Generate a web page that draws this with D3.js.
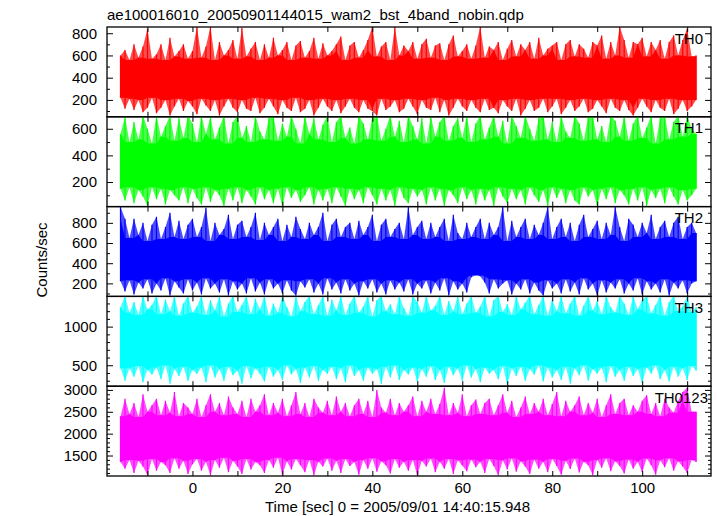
<!DOCTYPE html>
<html>
<head>
<meta charset="utf-8">
<script src="https://cdn.jsdelivr.net/npm/d3@7"></script>
<style>
  html, body { margin: 0; padding: 0; background: #fff; }
  svg { display: block; }
  text { font-family: "Liberation Sans", Arial, Helvetica, sans-serif; fill: #000; }
</style>
</head>
<body>
<svg id="chart" width="717" height="516"></svg>
<script>
// ---------------- data (1-s bins from t = -16 to 112) ----------------
const title = "ae100016010_20050901144015_wam2_bst_4band_nobin.qdp";
const xLabel = "Time [sec] 0 = 2005/09/01 14:40:15.948";
const yLabel = "Counts/sec";
const panelNames = ["TH0", "TH1", "TH2", "TH3", "TH0123"];
const panelColors = ["#ff0000", "#00ff00", "#0000ff", "#00ffff", "#ff00ff"];
const tStart = -16;
const tStep = 1;
const xTickValues = [-10, 0, 10, 20, 30, 40, 50, 60, 70, 80, 90, 100, 110];
const xLabelValues = [0, 20, 40, 60, 80, 100];

const th0Hi = [600,650,560,700,580,680,840,570,610,700,560,760,590,640,700,570,
  640,860,580,680,860,560,720,600,650,740,570,850,590,660,720,560,
  700,580,760,600,650,720,560,690,730,580,640,760,570,710,600,640,
  700,770,560,690,720,580,650,740,860,590,680,720,560,860,600,690,
  640,720,570,700,750,580,690,710,560,700,780,590,640,700,570,690,
  860,580,680,650,720,560,660,740,590,700,650,720,570,760,600,660,
  690,720,560,700,740,590,700,660,580,720,690,780,570,720,600,860,
  740,580,720,700,760,590,720,650,740,570,720,780,600,740,840,590,600];
const th0Lo = [220,120,210,110,200,90,130,220,80,130,200,60,140,210,100,190,
  140,70,210,150,100,200,60,140,210,130,90,200,120,100,220,80,
  130,210,140,70,200,130,100,220,90,120,200,60,130,210,140,100,
  200,80,140,210,130,90,200,120,100,60,210,110,140,200,90,120,
  210,140,70,200,130,110,220,90,200,60,130,210,140,100,200,130,
  90,210,110,130,80,200,140,100,210,60,120,200,100,130,210,90,
  140,210,70,130,200,100,140,210,90,120,200,140,80,210,130,100,
  200,110,60,130,210,140,90,200,130,100,210,70,120,200,100,140,200];

const th1Hi = [560,690,500,650,520,700,600,490,700,540,620,700,510,680,530,700,
  640,500,700,560,690,520,610,700,490,650,700,530,620,500,700,580,
  520,680,700,510,640,540,700,600,490,700,560,680,520,630,700,500,
  650,700,530,610,490,700,640,520,680,700,510,600,700,540,660,500,
  700,620,520,680,490,700,540,650,700,510,620,680,530,700,500,640,
  700,520,610,700,540,660,490,700,620,530,700,600,510,680,700,520,
  650,500,700,580,530,700,640,510,690,700,520,620,500,700,660,540,
  700,510,640,700,530,610,700,490,680,700,520,650,700,540,700,600,560];
const th1Lo = [150,60,160,40,140,90,20,160,70,150,30,140,100,60,160,40,
  150,80,30,160,50,140,100,20,150,60,160,40,140,90,30,160,
  70,140,40,150,20,160,80,140,50,100,160,30,140,60,150,40,
  160,90,20,150,70,140,40,160,100,30,150,60,140,20,160,80,
  40,150,90,140,30,160,60,150,20,140,100,40,160,70,140,30,
  150,60,140,20,160,90,40,150,70,140,30,160,100,50,140,20,
  160,80,150,40,140,60,30,160,90,140,20,150,70,160,40,140,
  100,30,150,60,160,20,140,80,150,40,160,90,30,140,60,100,150];

const th2Hi = [960,840,650,840,680,800,620,780,860,640,760,900,660,820,640,780,
  840,660,760,950,620,800,680,740,880,640,780,820,660,760,900,630,
  800,680,760,840,620,780,660,860,740,640,800,680,760,900,620,780,
  840,660,760,800,640,820,680,760,880,620,780,840,660,740,800,640,
  960,680,760,820,640,800,660,760,840,620,880,700,640,800,660,760,
  840,640,800,680,760,960,620,820,660,760,840,640,780,680,800,960,
  640,760,840,660,800,620,780,880,660,740,820,640,800,680,960,760,
  620,840,780,660,800,700,880,640,760,820,660,800,860,640,760,800,700];
const th2Lo = [220,120,230,90,210,150,240,100,200,130,250,80,220,160,100,240,
  130,210,90,250,150,200,110,240,80,220,140,200,100,250,120,210,
  90,240,150,200,100,230,130,80,220,160,240,110,200,90,250,140,
  210,100,240,130,200,80,220,150,240,110,200,90,230,140,210,120,
  240,90,200,150,230,100,210,130,250,80,220,140,200,110,260,280,
  270,210,100,240,150,200,230,90,200,140,240,100,210,130,80,230,
  150,200,100,240,120,210,90,250,140,200,80,230,110,210,150,240,
  100,200,130,250,90,220,140,200,110,240,80,210,150,230,100,200,220];

const th3Hi = [1250,1400,1180,1320,1150,1400,1220,1280,1400,1160,1350,1200,1400,1140,1300,1400,
  1180,1260,1400,1150,1340,1210,1400,1130,1300,1400,1190,1280,1400,1160,1360,1220,
  1400,1140,1300,1180,1400,1250,1130,1400,1200,1320,1400,1160,1280,1400,1140,1350,
  1210,1400,1150,1300,1400,1180,1260,1400,1130,1340,1400,1200,1290,1160,1400,1240,
  1140,1400,1320,1180,1400,1210,1270,1400,1150,1330,1200,1400,1160,1300,1400,1180,
  1260,1400,1130,1340,1400,1190,1290,1150,1400,1220,1310,1400,1160,1280,1400,1140,
  1350,1200,1400,1170,1300,1400,1140,1270,1400,1210,1330,1160,1400,1250,1180,1400,
  1300,1150,1400,1220,1340,1400,1170,1280,1400,1140,1320,1400,1200,1260,1400,1190,1250];
const th3Lo = [460,300,460,350,490,280,440,380,470,320,500,260,450,360,480,300,
  440,390,470,280,500,340,450,300,480,370,430,260,490,330,460,390,
  290,480,350,440,310,500,380,450,270,470,340,490,300,440,390,480,
  320,460,280,500,360,440,300,470,390,450,260,480,340,500,310,440,
  380,470,290,450,350,490,310,440,270,480,370,460,300,500,340,450,
  280,470,390,440,320,490,250,460,360,480,300,450,380,500,290,470,
  340,440,310,480,260,460,370,500,300,450,390,470,280,490,350,440,
  300,480,360,450,270,470,390,500,320,440,290,480,350,460,310,490,430];

const th0123Hi = [2400,2800,2450,2700,2380,2900,2500,2650,2800,2420,2750,2480,2950,2400,2700,2600,
  2450,2800,2380,2650,2900,2500,2700,2420,2850,2600,2450,2750,2380,2800,2500,2650,
  2900,2420,2700,2480,2800,2400,2650,2950,2450,2700,2380,2800,2600,2480,2750,2420,
  2850,2500,2700,2400,2650,2800,2450,2750,2380,3000,2600,2480,2800,2420,2700,2500,
  2650,2850,2400,2750,2500,2800,2450,2680,3050,2420,2700,2480,2900,2400,2650,2780,
  2450,2700,2800,2420,2650,2900,2480,2750,2380,2600,2850,2450,2700,2500,2800,2420,
  2680,2950,2400,2750,2500,2650,2850,2420,2700,2480,2800,2380,2650,2900,2450,2700,
  2800,2420,2650,2500,2750,2880,2450,2700,2400,2800,2600,2480,2750,2950,3050,2500,2500];
const th0123Lo = [1350,1200,1400,1100,1380,1250,1050,1420,1150,1350,1280,1100,1440,1200,1380,1080,
  1300,1420,1150,1360,1050,1400,1220,1450,1120,1380,1250,1080,1420,1180,1350,1280,
  1100,1400,1220,1450,1060,1370,1180,1420,1280,1120,1400,1050,1360,1250,1430,1150,
  1380,1100,1420,1260,1350,1060,1400,1200,1440,1130,1370,1280,1090,1420,1220,1360,
  1150,1400,1050,1380,1250,1430,1120,1360,1200,1420,1080,1390,1270,1140,1410,1230,
  1360,1100,1420,1260,1050,1390,1180,1440,1130,1370,1250,1080,1410,1200,1360,1120,
  1420,1260,1060,1380,1190,1430,1110,1360,1280,1050,1400,1220,1440,1140,1370,1260,
  1090,1410,1200,1360,1120,1430,1280,1060,1390,1230,1440,1150,1370,1250,1100,1400,1350];

const panelHi = [th0Hi, th1Hi, th2Hi, th3Hi, th0123Hi];
const panelLo = [th0Lo, th1Lo, th2Lo, th3Lo, th0123Lo];
const yDomains = [[48, 856], [15, 690], [71, 961], [229, 1391], [1032, 3085]];
const yMajor = [[200, 400, 600, 800], [200, 400, 600], [200, 400, 600, 800], [500, 1000], [1500, 2000, 2500, 3000]];
const yMinorStep = [100, 100, 100, 100, 100];

// ---------------- layout ----------------
const svg = d3.select("#chart");
const left = 107, right = 711, top0 = 27, panelH = 89.8;
const fontSize = 15;

const x = d3.scaleLinear().domain([-19.0, 115.3]).range([left, right]);

svg.append("text")
  .attr("x", left).attr("y", 19.5)
  .attr("font-size", fontSize)
  .text(title);

panelNames.forEach((name, i) => {
  const pTop = top0 + i * panelH;
  const pBot = pTop + panelH;
  const y = d3.scaleLinear().domain(yDomains[i]).range([pBot, pTop]);
  const g = svg.append("g");
  const color = panelColors[i];

  const clipId = "clip" + i;
  svg.append("clipPath").attr("id", clipId)
    .append("rect").attr("x", left).attr("y", pTop).attr("width", right - left).attr("height", panelH);

  const hi = panelHi[i], lo = panelLo[i];
  const n = hi.length;
  const pts = hi.map((h, k) => {
    const a = Math.max(0, k - 1), b = Math.min(n - 1, k + 1);
    return {
      t: tStart + k * tStep, hi: h, lo: lo[k],
      coreHi: Math.min(hi[a], h, hi[b]),
      coreLo: Math.max(lo[a], lo[k], lo[b])
    };
  });
  const dataG = g.append("g").attr("clip-path", `url(#${clipId})`);
  // fringe
  dataG.append("path")
    .attr("d", d3.area().x(d => x(d.t)).y0(d => y(d.lo)).y1(d => y(d.hi))(pts))
    .attr("fill", color).attr("fill-opacity", 0.7);
  // dense core
  dataG.append("path")
    .attr("d", d3.area().x(d => x(d.t)).y0(d => y(d.coreLo)).y1(d => y(d.coreHi))(pts))
    .attr("fill", color);
  // needles
  dataG.selectAll("line.needle").data(pts).join("line")
    .attr("class", "needle")
    .attr("x1", d => x(d.t)).attr("x2", d => x(d.t))
    .attr("y1", d => y(d.lo)).attr("y2", d => y(d.hi))
    .attr("stroke", color).attr("stroke-width", 1.2);

  // ticks
  const [d0, d1] = yDomains[i];
  const minor = d3.range(Math.ceil(d0 / yMinorStep[i]) * yMinorStep[i], d1, yMinorStep[i])
    .filter(v => !yMajor[i].includes(v));
  const axisStyle = sel => {
    sel.select(".domain").remove();
    sel.selectAll("line").attr("stroke", "#000").attr("stroke-width", 1);
    sel.selectAll("text").attr("font-size", fontSize).attr("font-family", "Liberation Sans, Arial, sans-serif");
  };
  g.append("g").attr("transform", `translate(${left},0)`)
    .call(d3.axisLeft(y).tickValues(minor).tickSize(-3).tickFormat("")).call(axisStyle);
  g.append("g").attr("transform", `translate(${right},0)`)
    .call(d3.axisRight(y).tickValues(minor).tickSize(-3).tickFormat("")).call(axisStyle);
  g.append("g").attr("transform", `translate(${left},0)`)
    .call(d3.axisLeft(y).tickValues(yMajor[i]).tickSize(-6).tickPadding(10).tickFormat(d3.format("d"))).call(axisStyle);
  g.append("g").attr("transform", `translate(${right},0)`)
    .call(d3.axisRight(y).tickValues(yMajor[i]).tickSize(-6).tickFormat("")).call(axisStyle);

  g.append("g").attr("transform", `translate(0,${pTop})`)
    .call(d3.axisTop(x).tickValues(xTickValues).tickSize(-5).tickFormat("")).call(axisStyle);
  const bottomAxis = d3.axisBottom(x).tickValues(xTickValues).tickSize(-5).tickPadding(6)
    .tickFormat(d => (i === panelNames.length - 1 && xLabelValues.includes(d)) ? d : "");
  g.append("g").attr("transform", `translate(0,${pBot})`)
    .call(bottomAxis).call(axisStyle);

  // frame
  g.append("rect").attr("x", left).attr("y", pTop).attr("width", right - left).attr("height", panelH)
    .attr("fill", "none").attr("stroke", "#000").attr("stroke-width", 1.3);

  // panel label
  g.append("text")
    .attr("x", i === panelNames.length - 1 ? 708 : 703)
    .attr("y", pTop + 16.5)
    .attr("text-anchor", "end")
    .attr("font-size", fontSize)
    .text(name);
});

svg.append("text")
  .attr("x", 397.5).attr("y", 511.5)
  .attr("text-anchor", "middle")
  .attr("font-size", fontSize)
  .text(xLabel);

svg.append("text")
  .attr("transform", "translate(47,260) rotate(-90)")
  .attr("text-anchor", "middle")
  .attr("font-size", fontSize)
  .text(yLabel);
</script>
</body>
</html>
